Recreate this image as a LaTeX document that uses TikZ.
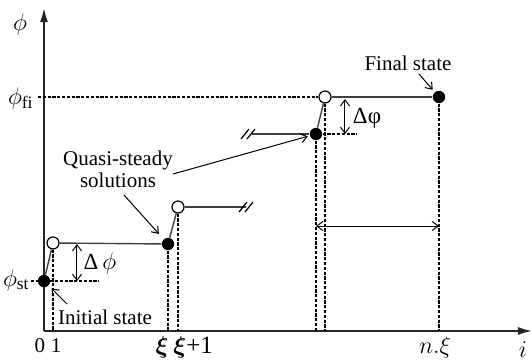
\documentclass[tikz,border=0pt]{standalone}
\usepackage{fontspec}
\setmainfont{Liberation Serif}
\usepackage{bm}
\usetikzlibrary{arrows.meta}

\begin{document}
\begin{tikzpicture}[
    x=0.5pt, y=-0.5pt,
    font=\fontsize{10.5}{11}\selectfont,
    axis/.style={line width=0.8pt, draw=black!85, -{Latex[length=7pt,width=4pt]}},
    level/.style={line width=0.7pt, draw=black!75},
    guide/.style={line width=1.2pt, dash pattern=on 1.6pt off 0.8pt},
    arrow/.style={line width=0.5pt, -{Straight Barb[length=3pt,width=4.5pt]}},
    span/.style={line width=0.5pt, {Straight Barb[length=3pt,width=4.5pt]}-{Straight Barb[length=3pt,width=4.5pt]}},
    full/.style={circle, fill=black, inner sep=0pt, minimum size=6.2pt},
    hollow/.style={circle, draw=black, line width=0.6pt, fill=white, inner sep=0pt, minimum size=6pt},
    breakmark/.style={line width=0.6pt},
    big/.style={font=\fontsize{12.5}{13}\selectfont, inner sep=0pt}
]
\useasboundingbox (0,0) rectangle (532,360);

% axes
\coordinate (O) at (44,331);
\coordinate (Ytop) at (44,8);
\coordinate (Xend) at (532,331);
\draw[axis] (O) -- (Ytop);
\draw[axis] (O) -- (Xend);

% states
\node[full] (S0) at (44,281) {};
\node[hollow] (O1) at (53,243) {};
\node[full] (S1) at (168,244) {};
\node[hollow] (O2) at (178,207) {};
\node[full] (S2) at (316,134) {};
\node[hollow] (O3) at (325,97) {};
\node[full] (SF) at (439,97) {};

% dashed guides
\coordinate (Fi) at (38,97);
\coordinate (St) at (31,281);
\coordinate (StR) at (99,281);
\coordinate (S2R) at (357,134);
\draw[guide] (Fi) -- (O3);
\draw[guide] (St) -- (StR);
\draw[guide] (S2) -- (S2R);
\draw[guide] (O1) -- (O1 |- O);
\draw[guide] (S1) -- (S1 |- O);
\draw[guide] (O2) -- (O2 |- O);
\draw[guide] (S2) -- (S2 |- O);
\draw[guide] (O3) -- (O3 |- O);
\draw[guide] (SF) -- (SF |- O);

% steps
\coordinate (B1) at (246,207);
\coordinate (B2) at (252,134);
\draw[level] (S0) -- (O1);
\draw[level] (O1) -- (S1);
\draw[level] (S1) -- (O2);
\draw[level] (O2) -- (B1);
\draw[level] (B2) -- (S2);
\draw[level] (S2) -- (O3);
\draw[level] (O3) -- (SF);
\draw[breakmark] (B1) ++(-7,5) -- ++(8,-10) ++(-2,10) -- ++(8,-10);
\draw[breakmark] (B2) ++(-11,5) -- ++(8,-10) ++(-2,10) -- ++(8,-10);

% increments
\coordinate (D1t) at (77,244);
\coordinate (D1b) at (77,281);
\coordinate (D2t) at (345,99);
\coordinate (D2b) at (345,134);
\coordinate (Sp1) at (316,226);
\coordinate (Sp2) at (439,226);
\draw[span] (D1t) -- (D1b);
\draw[span] (D2t) -- (D2b);
\draw[span] (Sp1) -- (Sp2);
\node[font=\fontsize{11.5}{12}\selectfont] (dphi1) at (100,263) {Δ\,$\phi$};
\node[font=\fontsize{11.5}{12}\selectfont] (dphi2) at (367,118) {Δφ};

% axis labels
\node[big] (phi) at (20,24) {$\phi$};
\node[big, anchor=east] (phifi) at (34,98) {$\phi_{\mathrm{fi}}$};
\node[big, anchor=east] (phist) at (30,280) {$\phi_{\mathrm{st}}$};
\node (L0) at (40,346) {0};
\node (L1) at (56,346) {1};
\node[big, anchor=east] (Lxi) at (169,347) {$\bm{\xi}$};
\node[big, anchor=west] (Lxi1) at (173,347) {$\bm{\xi}$+1};
\node[big] (Ln) at (435,347) {$n.\xi$};
\node[big] (Li) at (523,350) {$i$};

% annotations
\node (Init) at (105,317) {Initial state};
\node[align=center] (Quasi) at (118,169) {Quasi-steady\\solutions};
\node (Final) at (408,63) {Final state};
\coordinate (Ia) at (67,304);
\coordinate (Qa) at (124,195);
\coordinate (Qb) at (173,174);
\coordinate (Fa) at (419,74);
\draw[arrow, shorten >=2pt] (Ia) -- (S0);
\draw[arrow, shorten >=3.5pt] (Qa) -- (S1);
\draw[arrow, shorten >=1pt] (Qb) -- (S2);
\draw[arrow, shorten >=1.5pt] (Fa) -- (SF);
\end{tikzpicture}
\end{document}
